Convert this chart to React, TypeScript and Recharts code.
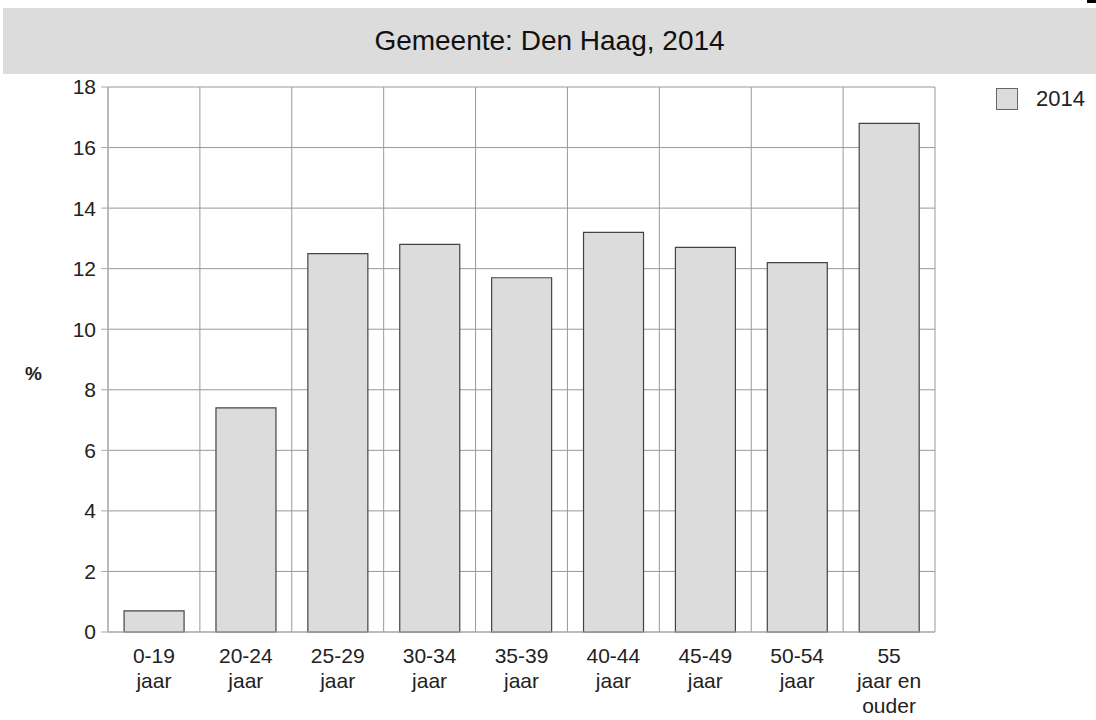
import React from "react";
import { BarChart, Bar, XAxis, YAxis, CartesianGrid } from "recharts";

// age groups (line breaks as in the original labels)
const ageGroups = [
  "0-19\njaar",
  "20-24\njaar",
  "25-29\njaar",
  "30-34\njaar",
  "35-39\njaar",
  "40-44\njaar",
  "45-49\njaar",
  "50-54\njaar",
  "55\njaar en\nouder",
];
const share2014 = [0.7, 7.4, 12.5, 12.8, 11.7, 13.2, 12.7, 12.2, 16.8];
const yTicks = [0, 2, 4, 6, 8, 10, 12, 14, 16, 18];
const seriesName = "2014";
const title = "Gemeente: Den Haag, 2014";

const FONT = "'Liberation Sans', Arial, Helvetica, sans-serif";

const AgeTick = (props: any) => {
  const { x, y, payload } = props;
  const lines: string[] = String(payload.value).split("\n");
  return (
    <text x={x} y={y} textAnchor="middle" fontSize={21} fill="#222" fontFamily={FONT}>
      {lines.map((l, i) => (
        <tspan key={i} x={x} dy={i === 0 ? 31 : 25}>
          {l}
        </tspan>
      ))}
    </text>
  );
};

const App: React.FC = () => {
  const data = ageGroups.map((g, i) => ({ group: g, value: share2014[i] }));

  return (
    <div style={{ position: "absolute", left: 0, top: 0, width: 1096, height: 720, background: "#fff", fontFamily: FONT }}>
      <div
        style={{
          position: "absolute",
          left: 3,
          top: 8,
          width: 1093,
          height: 66,
          background: "#dcdcdc",
          display: "flex",
          alignItems: "center",
          justifyContent: "center",
          fontSize: 28,
          color: "#111",
        }}
      >
        {title}
      </div>
      <div style={{ position: "absolute", left: 1087, top: 0, width: 9, height: 3, background: "#000" }} />

      <div style={{ position: "absolute", left: 0, top: 0 }}>
        <BarChart
          width={1096}
          height={720}
          data={data}
          margin={{ top: 87, right: 161, bottom: 8, left: 48 }}
          barCategoryGap="17.5%"
        >
          <CartesianGrid
            stroke="#999"
            verticalCoordinatesGenerator={({ offset }: any) =>
              Array.from({ length: ageGroups.length + 1 }, (_, i) => offset.left + (i * offset.width) / ageGroups.length)
            }
          />
          <XAxis
            dataKey="group"
            interval={0}
            height={80}
            tickLine={false}
            tickSize={0}
            tickMargin={0}
            stroke="#aaa"
            tick={<AgeTick />}
          />
          <YAxis
            domain={[0, 18]}
            ticks={yTicks}
            width={60}
            tickSize={7}
            tickMargin={5}
            stroke="#aaa"
            tick={{ fill: "#222", fontSize: 21, fontFamily: FONT }}
            label={{
              content: ({ viewBox }: any) => (
                <text
                  x={viewBox.x - 6}
                  y={viewBox.y + viewBox.height / 2 + 20}
                  textAnchor="end"
                  fontSize={19}
                  fontWeight="bold"
                  fill="#222"
                  fontFamily={FONT}
                >
                  %
                </text>
              ),
            }}
          />
          <Bar dataKey="value" name={seriesName} fill="#dcdcdc" stroke="#444" strokeWidth={1.2} isAnimationActive={false} />
        </BarChart>
      </div>

      <div style={{ position: "absolute", left: 996, top: 86, display: "flex", alignItems: "center" }}>
        <div style={{ width: 20, height: 20, background: "#dcdcdc", border: "1px solid #666" }} />
        <span style={{ marginLeft: 18, fontSize: 22, color: "#222" }}>{seriesName}</span>
      </div>
    </div>
  );
};

export default App;
